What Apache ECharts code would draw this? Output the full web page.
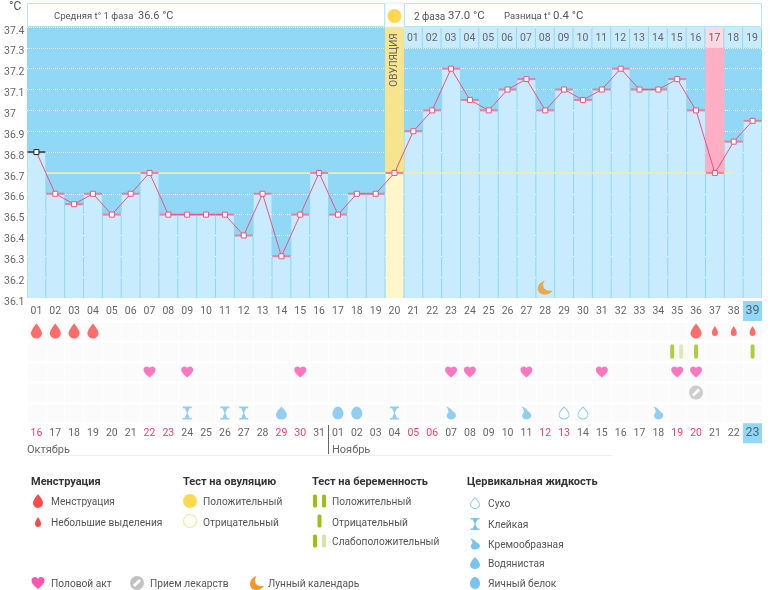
<!DOCTYPE html>
<html>
<head>
<meta charset="utf-8">
<style>html,body{margin:0;padding:0;background:#fff}#c{width:770px;height:590px}</style>
<script src="https://cdn.jsdelivr.net/npm/echarts@6/dist/echarts.min.js"></script>
</head>
<body>
<div id="c"></div>
<script>
// ---------- data ----------
const cycleDays = ["01","02","03","04","05","06","07","08","09","10","11","12","13","14","15","16","17","18","19","20","21","22","23","24","25","26","27","28","29","30","31","32","33","34","35","36","37","38","39"];
const dates = ["16","17","18","19","20","21","22","23","24","25","26","27","28","29","30","31","01","02","03","04","05","06","07","08","09","10","11","12","13","14","15","16","17","18","19","20","21","22","23"];
const weekendCycleDays = [1,7,8,14,15,21,22,28,29,35,36];
const temperatures = [36.8,36.6,36.55,36.6,36.5,36.6,36.7,36.5,36.5,36.5,36.5,36.4,36.6,36.3,36.5,36.7,36.5,36.6,36.6,36.7,36.9,37.0,37.2,37.05,37.0,37.1,37.15,37.0,37.1,37.05,37.1,37.2,37.1,37.1,37.15,37.0,36.7,36.85,36.95];
const yTicks = [36.1,36.2,36.3,36.4,36.5,36.6,36.7,36.8,36.9,37,37.1,37.2,37.3,37.4];
const phase2Labels = ["01","02","03","04","05","06","07","08","09","10","11","12","13","14","15","16","17","18","19"];
const coverLineValue = 36.7;
const ovulationDay = 20;
const peakDay = 37;
const lunarDay = 28;
const heavyDays = [1,2,3,4,36];
const spottingDays = [37,38,39];
const negativeTestDays = [36,39];
const weakTestDays = [35];
const sexDays = [7,9,15,23,24,27,31,35,36];
const medicineDays = [36];
const stickyDays = [9,11,12,20];
const wateryDays = [14];
const eggWhiteDays = [17,18];
const creamyDays = [23,27,34];
const dryDays = [29,30];
const rows = ["Менструация","Тест","Половой акт","Лекарства","Цервикальная жидкость"];

// ---------- glyphs ----------
const P = {
  drop:'M12 0C12 0 23 13 23 20A11 11 0 0 1 1 20C1 13 12 0 12 0Z',
  heart:'M12 22C4 16 0 11 0 6.5C0 2.5 3 0 6.5 0C9 0 11 1.5 12 3.5C13 1.5 15 0 17.5 0C21 0 24 2.5 24 6.5C24 11 20 16 12 22Z',
  hour:'M3 0H21V3H16.5C15.5 8 13 9 13 12C13 15 15.5 16 16.5 21H21V24H3V21H7.5C8.5 16 11 15 11 12C11 9 8.5 8 7.5 3H3Z',
  cream:'M3 0C10 1 13 5 16 8C21 11 24 14 23 18C21 23 14 25 9 23C4 21 3 15 7 12C9 10 8 5 3 0Z',
  egg:'M12 0C18 0 23 7 23 13A11 11 0 0 1 1 13C1 7 6 0 12 0Z',
  moon:'M11 0C6 8 9 18 23 16C19 22 9 25 3 19C-2 13 2 3 11 0Z',
  pill:'M12 0A12 12 0 1 1 12 24A12 12 0 1 1 12 0ZM15.5 5L5 15.5L8.5 19L19 8.5Z'
};
const sym = k => 'path://' + P[k];
const C = {dark:'#90d8f5',light:'#c8ecfd',line:'#f0527e',yellow:'#f6e48f',paleYellow:'#fff7cb',pink:'#ffaec3',palePink:'#ffd8e0',text:'#666',red:'#f23d6e',drop:'#fb4a4a',heart:'#ff55b0',blue:'#78c3f0',green:'#9ac30f',paleGreen:'#d4e6a4',gray:'#c2c2c2',orange:'#f4981e'};
const FONT = 'Roboto, sans-serif';

const ix = arr => arr.map(d => d - 1);
const pts = (arr, row) => ix(arr).map(i => [i, row]);

function rectBetween(api, i, lo, hi, gap) {
  const a = api.coord([i, hi]), b = api.coord([i, lo]);
  const w = api.size([1, 0])[0];
  return {x: a[0] - w / 2, y: a[1], width: w - gap, height: b[1] - a[1]};
}

// ---------- series ----------
const barColors = cycleDays.map((_, i) => i === ovulationDay - 1 ? C.paleYellow : C.light);
const markSeries = (name, data, symbol, size, color, extra) => Object.assign({
  name, type:'scatter', xAxisIndex:1, yAxisIndex:1, data, symbol, symbolSize:size,
  itemStyle:{color}, silent:true, z:5
}, extra || {});

// legend glyphs, drawn as a coordinate-free custom series
const legendGlyphs = [
  ['drop',38,501,10,14,C.drop],['drop',38,522,6,10,C.drop],
  ['drop',475,503,9,11,'#fff',C.blue],['hour',475,524,9,12,C.blue],['cream',475,544,10,11,C.blue],
  ['drop',475,563,10,12,C.blue],['egg',475,583,10,12,C.blue],
  ['heart',38,583,13,12,C.heart],['pill',137,583,14,14,C.gray],['moon',257,583,14,14,C.orange]
];

const series = [
  // coloured fertile columns behind the bars
  {type:'custom', xAxisIndex:0, yAxisIndex:0, silent:true, z:1,
   data:[[ovulationDay-1, coverLineValue, 37.4, 0],[peakDay-1, coverLineValue, 37.3, 1]],
   renderItem:(p, api) => ({type:'rect', shape:rectBetween(api, api.value(0), api.value(1), api.value(2), 0),
     style:{fill: api.value(3) ? C.pink : C.yellow}})},
  // day bars
  {type:'bar', xAxisIndex:0, yAxisIndex:0, silent:true, z:2, barWidth:17.8,
   data:temperatures.map((v,i)=>({value:v, itemStyle:{color:barColors[i]}}))},
  // phase-2 day cells along the top edge
  {type:'custom', xAxisIndex:0, yAxisIndex:0, silent:true, z:3,
   data:phase2Labels.map((l,i)=>[ovulationDay+i, 37.3, 37.4, i]),
   renderItem:(p, api) => {
     const i = api.value(0), r = rectBetween(api, i, api.value(1), api.value(2), 1);
     return {type:'group', children:[
       {type:'rect', shape:r, style:{fill: i === peakDay-1 ? C.palePink : C.light}},
       {type:'text', style:{text:phase2Labels[api.value(3)], x:r.x+r.width/2, y:r.y+r.height/2+1, align:'center', verticalAlign:'middle', fontSize:10.5, fontFamily:FONT, fill:C.text}}
     ]};
   }},
  // cover line
  {type:'custom', xAxisIndex:0, yAxisIndex:0, silent:true, z:4,
   data:[[1, 37, coverLineValue]],
   renderItem:(p, api) => {
     const w = api.size([1,0])[0];
     const a = api.coord([api.value(0), api.value(2)]), b = api.coord([api.value(1), api.value(2)]);
     return {type:'line', shape:{x1:a[0]-w/2, y1:a[1], x2:b[0], y2:b[1]}, style:{stroke:'#f3eea6', lineWidth:1.5}};
   }},
  // caps
  {type:'scatter', xAxisIndex:0, yAxisIndex:0, silent:true, z:5, symbol:'rect', symbolSize:[18,2],
   data:temperatures.map((v,i)=>({value:[i,v], itemStyle:{color: i===0 ? '#333' : '#f0688c'}}))},
  // temperature line
  {type:'line', xAxisIndex:0, yAxisIndex:0, silent:true, z:6, symbol:'rect', symbolSize:5, showSymbol:true, showAllSymbol:true,
   lineStyle:{color:C.line, width:1}, itemStyle:{color:'#fff', borderColor:C.line, borderWidth:1},
   data:temperatures.map((v,i)=> i===0 ? {value:v, itemStyle:{color:'#fff', borderColor:'#222', borderWidth:1}} : v)},
  // moon
  {type:'scatter', xAxisIndex:0, yAxisIndex:0, silent:true, z:7, symbol:sym('moon'), symbolSize:[15,14],
   itemStyle:{color:C.orange}, data:[[lunarDay-1, 36.15]]},
  // lower rows
  markSeries('Менструация', pts(heavyDays,0), sym('drop'), [11,15], C.drop),
  markSeries('Небольшие выделения', pts(spottingDays,0), sym('drop'), [6,10], C.drop),
  markSeries('Отрицательный', pts(negativeTestDays,1), 'roundRect', [4,14], C.green),
  markSeries('Слабоположительный 1', pts(weakTestDays,1), 'roundRect', [4,14], C.green, {symbolOffset:[-5,0]}),
  markSeries('Слабоположительный 2', pts(weakTestDays,1), 'roundRect', [4,14], C.paleGreen, {symbolOffset:[4,0]}),
  markSeries('Половой акт', pts(sexDays,2), sym('heart'), [12,11], C.heart),
  markSeries('Прием лекарств', pts(medicineDays,3), sym('pill'), [14,14], C.gray),
  markSeries('Клейкая', pts(stickyDays,4), sym('hour'), [9,13], C.blue),
  markSeries('Водянистая', pts(wateryDays,4), sym('drop'), [11,13], C.blue),
  markSeries('Яичный белок', pts(eggWhiteDays,4), sym('egg'), [11,13], C.blue),
  markSeries('Кремообразная', pts(creamyDays,4), sym('cream'), [10,13], C.blue),
  markSeries('Сухо', pts(dryDays,4), sym('drop'), [10,12], '#fff', {itemStyle:{color:'#fff', borderColor:C.blue, borderWidth:1}}),
  // legend glyphs
  {type:'custom', coordinateSystem:'none', silent:true, z:20, data:legendGlyphs.map((_,i)=>[i]),
   renderItem:(p, api) => {
     const g = legendGlyphs[api.value(0)];
     return {type:'path', shape:{pathData:P[g[0]], x:g[1]-g[3]/2, y:g[2]-g[4]/2, width:g[3], height:g[4], layout:'cover'},
       style:{fill:g[5], stroke:g[6]||null, lineWidth:g[6]?1:0}};
   }}
];

// ---------- legend & furniture ----------
const T = (text, x, y, o) => ({type:'text', x, y:y+1, silent:true, z:20,
  style:Object.assign({text, fill:'#555', font:'10.2px '+FONT, verticalAlign:'middle'}, o||{})});
const H = (text, x, y) => T(text, x, y, {fill:'#333', font:'bold 11px '+FONT});
const B = (cx, cy, fill) => ({type:'rect', silent:true, z:20,
  shape:{x:cx-2, y:cy-6.5, width:4, height:13, r:1.5}, style:{fill}});
const Box = (x, y, w, h) => ({type:'rect', silent:true, z:19, shape:{x,y,width:w,height:h}, style:{fill:'#fff', stroke:'#b6e5f6', lineWidth:1}});

const graphic = [
  T('°C', 9, 6, {font:'12px '+FONT}),
  Box(27.5,3.5,357,23), Box(404.5,3.5,357,23),
  {type:'rect', silent:true, z:18, shape:{x:385,y:3,width:19,height:24}, style:{fill:'#fff', stroke:'#d8f1fb', lineWidth:1}},
  T('Средняя t° 1 фаза', 54, 16, {font:'9.5px '+FONT}),
  T('36.6 °C', 138, 15.5, {font:'11px '+FONT}),
  {type:'circle', silent:true, z:20, shape:{cx:394.5,cy:16,r:7}, style:{fill:'#ffd84f'}},
  T('2 фаза', 414, 16, {font:'10px '+FONT}),
  T('37.0 °C', 448, 15.5, {font:'11.4px '+FONT}),
  T('Разница t°', 504, 16, {font:'9.5px '+FONT}),
  T('0.4 °C', 553, 15.5, {font:'11.4px '+FONT}),
  {type:'text', silent:true, z:20, x:394.5, y:60, rotation:Math.PI/2,
   style:{text:'ОВУЛЯЦИЯ', fill:'#666', font:'10px '+FONT, align:'center', verticalAlign:'middle'}},
  // months
  T('Октябрь', 27, 449, {font:'11px '+FONT, fill:'#666'}),
  T('Ноябрь', 332, 449, {font:'11px '+FONT, fill:'#666'}),
  {type:'line', silent:true, z:20, shape:{x1:328.5,y1:425,x2:328.5,y2:454}, style:{stroke:'#666', lineWidth:1}},
  {type:'line', silent:true, z:20, shape:{x1:27,y1:455.5,x2:612,y2:455.5}, style:{stroke:'#eee', lineWidth:1}},
  // legend
  H('Менструация', 31, 481), H('Тест на овуляцию', 183, 481), H('Тест на беременность', 312, 481), H('Цервикальная жидкость', 467, 481),
  T('Менструация',51,501), T('Небольшие выделения',51,522),
  {type:'circle', silent:true, z:20, shape:{cx:190,cy:501,r:7}, style:{fill:'#ffd84f'}}, T('Положительный',203,501),
  {type:'circle', silent:true, z:20, shape:{cx:190,cy:521,r:6.5}, style:{fill:'#fff', stroke:'#fbe795', lineWidth:1.2}}, T('Отрицательный',203,522),
  B(315,501,C.green), B(324,501,C.green), T('Положительный',332,501),
  B(319.5,521,C.green), T('Отрицательный',332,522),
  B(315,541,C.green), B(324,541,C.paleGreen), T('Слабоположительный',332,541),
  T('Сухо',488,503), T('Клейкая',488,524), T('Кремообразная',488,544), T('Водянистая',488,563), T('Яичный белок',488,583),
  T('Половой акт',51,583), T('Прием лекарств',150,583), T('Лунный календарь',268,583)
];

const labelRich = {
  n:{color:C.text, fontSize:10.5, fontFamily:FONT, height:20, lineHeight:20},
  r:{color:C.red, fontSize:10.5, fontFamily:FONT, height:20, lineHeight:20},
  box:{color:'#567', fontSize:12.5, fontFamily:FONT, backgroundColor:C.dark, width:19, height:20, align:'center', lineHeight:20}
};

const chart = echarts.init(document.getElementById('c'), null, {renderer:'canvas'});
chart.setOption({
  animation:false,
  backgroundColor:'#fff',
  tooltip:{show:false},
  grid:[
    {left:27, top:27, width:735, height:271, show:true, backgroundColor:C.dark, borderWidth:0},
    {left:27, top:320.75, width:735, height:102.5, show:true, backgroundColor:'#fbfbfb', borderWidth:0}
  ],
  xAxis:[
    {type:'category', gridIndex:0, data:cycleDays,
     axisLine:{show:false}, axisTick:{show:false}, splitLine:{show:false},
     axisLabel:{interval:0, margin:3, formatter:(v,i)=> i===cycleDays.length-1 ? '{box|'+v+'}' : '{n|'+v+'}', rich:labelRich}},
    {type:'category', gridIndex:1, data:dates,
     axisLine:{show:false}, axisTick:{show:false},
     splitLine:{show:true, interval:0, lineStyle:{color:'#fff', width:1}},
     axisLabel:{interval:0, margin:0, formatter:(v,i)=> i===dates.length-1 ? '{box|'+v+'}' : (weekendCycleDays.includes(i+1) ? '{r|'+v+'}' : '{n|'+v+'}'), rich:labelRich}}
  ],
  yAxis:[
    {type:'value', gridIndex:0, min:yTicks[0], max:yTicks[yTicks.length-1], interval:0.1,
     axisLine:{show:false}, axisTick:{show:false},
     splitLine:{show:true, lineStyle:{color:'#fff', type:'dotted', width:1}},
     axisLabel:{color:C.text, fontSize:10.5, fontFamily:FONT, align:'left', margin:23, verticalAlign:'top', lineHeight:8,
       showMinLabel:true, showMaxLabel:true,
       formatter:v=>String(Math.round(v*10)/10)}},
    {type:'category', gridIndex:1, data:rows, inverse:true, show:true,
     axisLine:{show:false}, axisTick:{show:false}, axisLabel:{show:false},
     splitLine:{show:true, interval:0, lineStyle:{color:'#fff', width:3}}}
  ],
  series,
  graphic
});
</script>
</body>
</html>
